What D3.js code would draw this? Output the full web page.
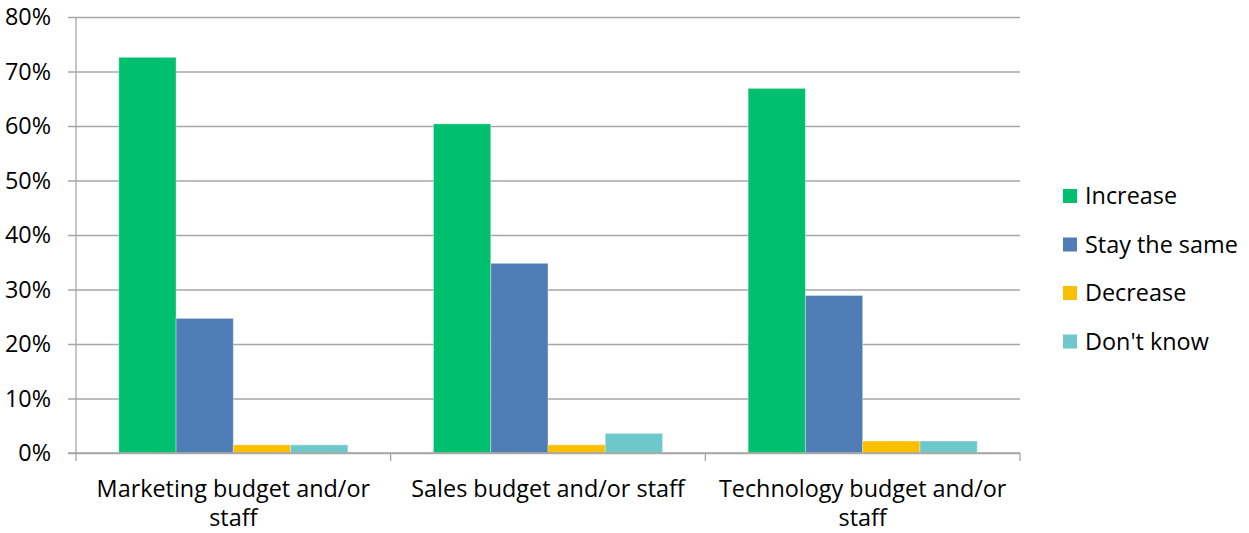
<!DOCTYPE html>
<html>
<head>
<meta charset="utf-8">
<script src="https://cdn.jsdelivr.net/npm/d3@7"></script>
<style>
  html, body { margin: 0; padding: 0; background: #fff; }
  svg { display: block; font-family: "Open Sans", "Noto Sans", sans-serif; }
</style>
</head>
<body>
<svg id="chart" width="1249" height="533"></svg>
<script>
// Budget / staffing outlook by area, share of respondents
const categories = [
  ["Marketing budget and/or", "staff"],
  ["Sales budget and/or staff"],
  ["Technology budget and/or", "staff"]
];
const seriesNames = ["Increase", "Stay the same", "Decrease", "Don't know"];
const seriesColors = ["#00BF6F", "#4F7DB5", "#F9BF00", "#6CC8CB"];
const increase   = [72.6, 60.4, 66.9];
const staySame   = [24.7, 34.8, 28.9];
const decrease   = [1.5, 1.5, 2.2];
const dontKnow   = [1.5, 3.6, 2.2];
const yTicks = [0, 10, 20, 30, 40, 50, 60, 70, 80];

const seriesValues = [increase, staySame, decrease, dontKnow];

const fontSize = 23.4;
const svg = d3.select("#chart");
const margin = { left: 76, right: 229, top: 17, bottom: 80 };
const W = 1249, H = 533;
const plotW = W - margin.left - margin.right;
const plotH = H - margin.top - margin.bottom;

const g = svg.append("g").attr("transform", `translate(${margin.left},${margin.top})`);

const x0 = d3.scaleBand().domain(d3.range(categories.length)).range([0, plotW]).paddingInner(0).paddingOuter(0);
const groupPad = 0.136;
const x1 = d3.scaleBand().domain(d3.range(seriesNames.length))
  .range([x0.bandwidth() * groupPad, x0.bandwidth() * (1 - groupPad)]).padding(0);
const y = d3.scaleLinear().domain([0, 80]).range([plotH, 0]);

const gridColor = "#A6A6A6";

// gridlines + y axis
const yAxis = d3.axisLeft(y).tickValues(yTicks).tickSize(-plotW).tickSizeOuter(0).tickPadding(25)
  .tickFormat(d => d + "%");
const yg = g.append("g").call(yAxis);
yg.select(".domain").remove();
yg.selectAll(".tick line").attr("stroke", gridColor).attr("stroke-width", 1.3).attr("x1", -8);
yg.selectAll(".tick text").attr("font-size", fontSize).attr("fill", "#000")
  .attr("font-family", "'Open Sans', sans-serif");

// vertical axis line
g.append("line").attr("x1", 0).attr("x2", 0).attr("y1", 0).attr("y2", plotH + 8)
  .attr("stroke", gridColor).attr("stroke-width", 1.3);

// bars
const groups = g.selectAll(".grp").data(categories).join("g")
  .attr("transform", (d, i) => `translate(${x0(i)},0)`);
groups.selectAll("rect").data((d, i) => seriesValues.map((s, k) => ({ k, v: s[i] }))).join("rect")
  .attr("x", d => x1(d.k))
  .attr("width", x1.bandwidth())
  .attr("y", d => y(d.v))
  .attr("height", d => plotH - y(d.v))
  .attr("fill", d => seriesColors[d.k])
  .attr("stroke", "rgba(255,255,255,0.35)")
  .attr("stroke-width", 1);

// x axis baseline and category boundary ticks
g.append("line").attr("x1", -8).attr("x2", plotW).attr("y1", plotH).attr("y2", plotH)
  .attr("stroke", gridColor).attr("stroke-width", 1.3);
categories.forEach((c, i) => {
  const xb = x0(i) + x0.bandwidth();
  g.append("line").attr("x1", xb).attr("x2", xb).attr("y1", plotH).attr("y2", plotH + 8)
    .attr("stroke", gridColor).attr("stroke-width", 1.3);
});

// category labels
categories.forEach((lines, i) => {
  const cx = x0(i) + x0.bandwidth() / 2;
  const t = g.append("text").attr("text-anchor", "middle").attr("font-size", fontSize).attr("fill", "#000");
  lines.forEach((ln, j) => {
    t.append("tspan").attr("x", cx).attr("y", plotH + 44 + j * 29).text(ln);
  });
});

// legend
const legend = svg.append("g").attr("transform", "translate(1063,196)");
seriesNames.forEach((name, k) => {
  const row = legend.append("g").attr("transform", `translate(0,${k * 48.5})`);
  row.append("rect").attr("x", 0).attr("y", -7).attr("width", 14).attr("height", 14).attr("fill", seriesColors[k]);
  row.append("text").attr("x", 22).attr("y", 0).attr("dy", "0.35em").attr("font-size", fontSize).attr("fill", "#000").text(name);
});
</script>
</body>
</html>
